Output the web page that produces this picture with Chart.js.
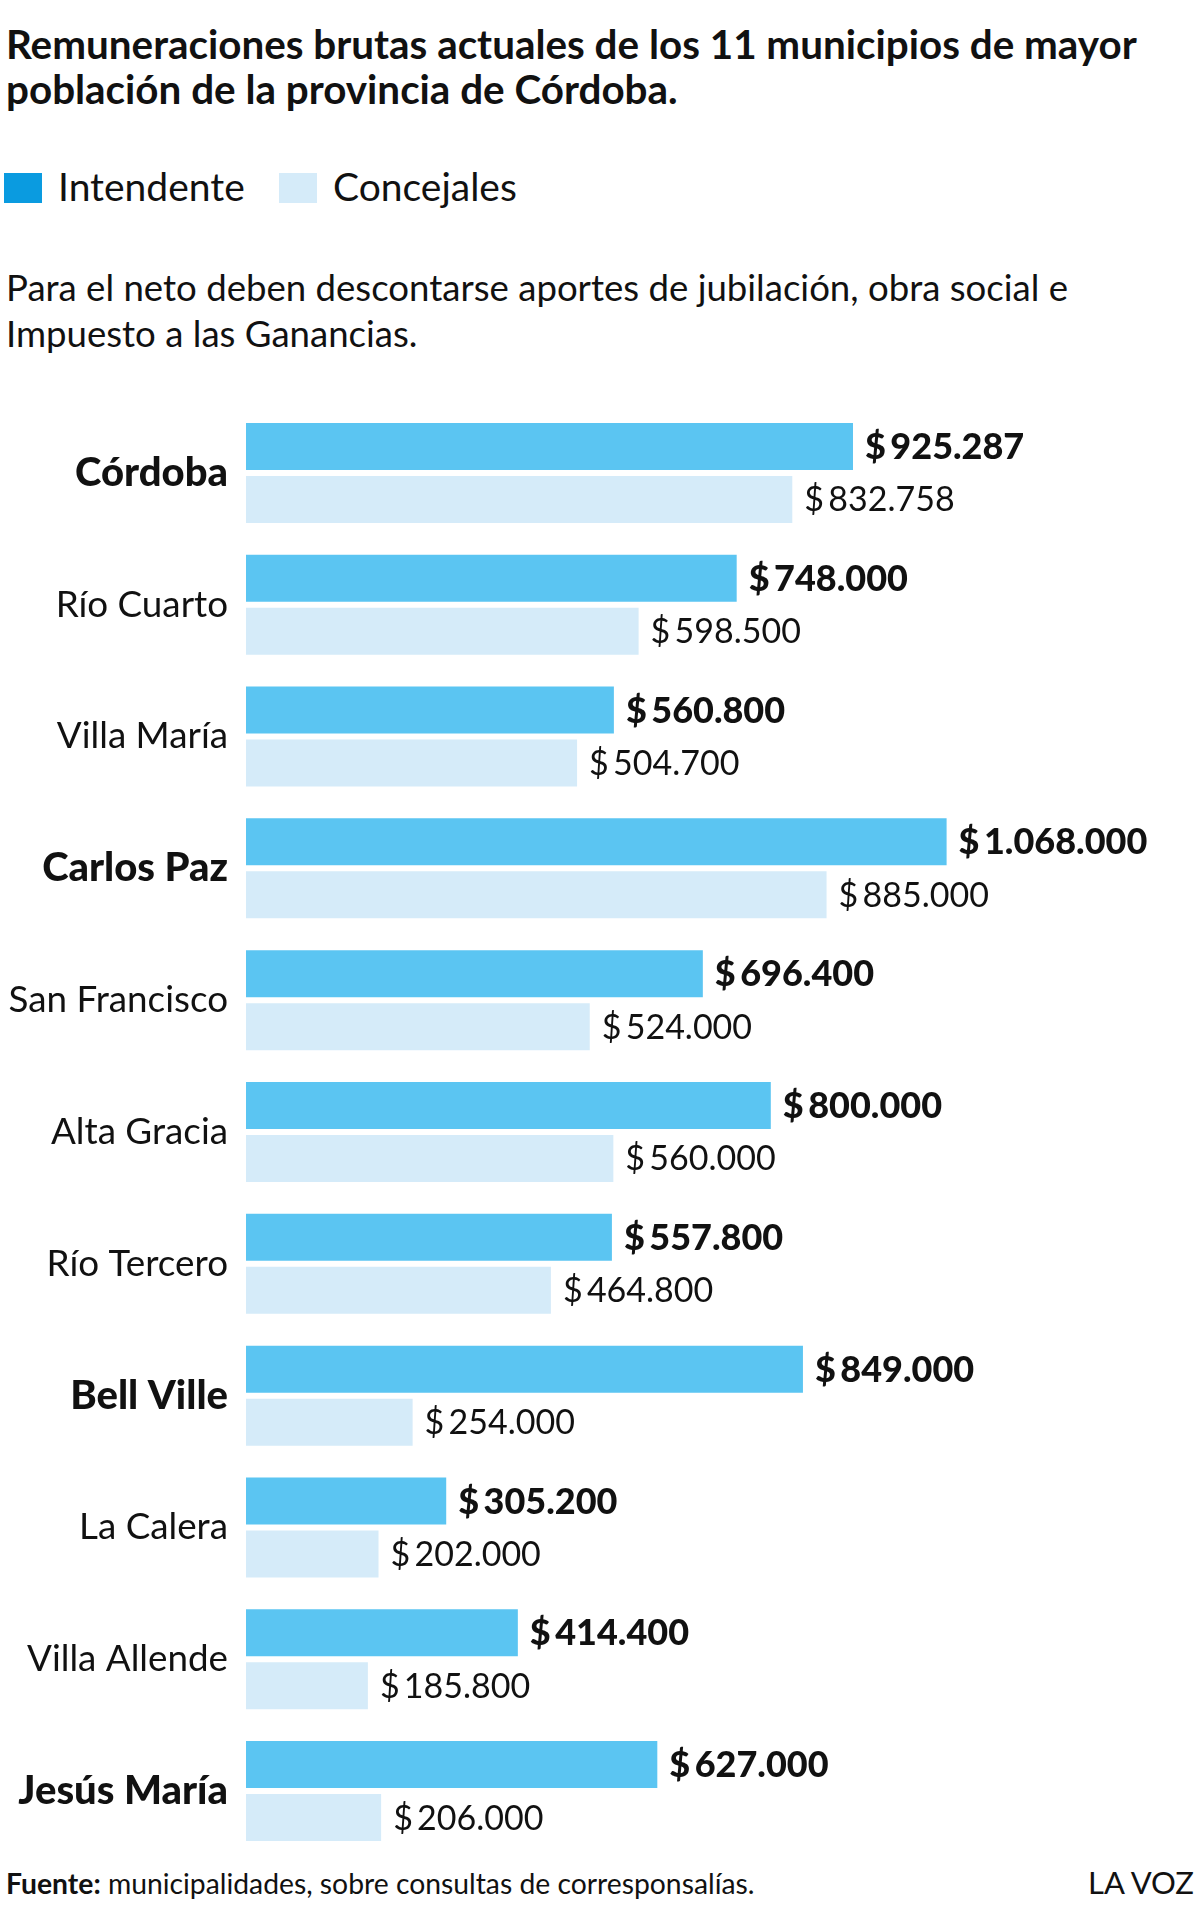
<!DOCTYPE html>
<html>
<head>
<meta charset="utf-8">
<script src="https://cdn.jsdelivr.net/npm/chart.js@4"></script>
<style>
  body { margin: 0; background: #fff; width: 1200px; height: 1910px; position: relative; overflow: hidden; font-family: Lato, sans-serif; color: #111; }
  .t { position: absolute; left: 6px; white-space: nowrap; }
  #title { top: 21px; font-size: 40.4px; line-height: 45px; font-weight: bold; }
  .leg { top: 163px; font-size: 39px; line-height: 46px; }
  .sq { position: absolute; top: 173px; width: 38px; height: 30px; }
  #sub { top: 264px; font-size: 36.6px; line-height: 46px; }
  #foot { top: 1866px; font-size: 28.3px; line-height: 35px; }
  #brand { position: absolute; top: 1865px; right: 6px; font-size: 31px; line-height: 35px; }
  #wrap { position: absolute; left: 0; top: 380px; width: 1200px; height: 1500px; }
</style>
</head>
<body>
<div class="t" id="title">Remuneraciones brutas actuales de los 11 municipios de mayor<br>población de la provincia de Córdoba.</div>
<div class="sq" style="left:4px;background:#0A9BE0"></div>
<div class="t leg" style="left:58px">Intendente</div>
<div class="sq" style="left:279px;background:#D5EBF9"></div>
<div class="t leg" style="left:333px">Concejales</div>
<div class="t" id="sub">Para el neto deben descontarse aportes de jubilación, obra social e<br>Impuesto a las Ganancias.</div>
<div class="t" id="foot"><b>Fuente:</b> municipalidades, sobre consultas de corresponsalías.</div>
<div id="brand">LA VOZ</div>
<div id="wrap"><canvas id="chart" width="1200" height="1500"></canvas></div>
<script>
// datos
var municipios = ["Córdoba", "Río Cuarto", "Villa María", "Carlos Paz", "San Francisco", "Alta Gracia", "Río Tercero", "Bell Ville", "La Calera", "Villa Allende", "Jesús María"];
var destacados = ["Córdoba", "Carlos Paz", "Bell Ville", "Jesús María"];
var intendente = [925287, 748000, 560800, 1068000, 696400, 800000, 557800, 849000, 305200, 414400, 627000];
var concejales = [832758, 598500, 504700, 885000, 524000, 560000, 464800, 254000, 202000, 185800, 206000];

function pesos(v) {
  return "$\u2009" + String(v).replace(/\B(?=(\d{3})+(?!\d))/g, ".");
}

var etiquetas = {
  id: 'etiquetas',
  afterDatasetsDraw: function(chart) {
    var ctx = chart.ctx;
    ctx.save();
    ctx.fillStyle = '#111';
    ctx.textAlign = 'left';
    ctx.textBaseline = 'middle';
    chart.data.datasets.forEach(function(ds, d) {
      ctx.font = d === 0 ? '900 36px Lato' : '34px Lato';
      chart.getDatasetMeta(d).data.forEach(function(bar, i) {
        ctx.fillText(pesos(ds.data[i]), bar.x + 12, bar.y + 1);
      });
    });
    ctx.restore();
  }
};

new Chart(document.getElementById('chart'), {
  type: 'bar',
  data: {
    labels: municipios,
    datasets: [
      { label: 'Intendente', data: intendente, backgroundColor: '#5BC5F2', categoryPercentage: 0.804, barPercentage: 0.887 },
      { label: 'Concejales', data: concejales, backgroundColor: '#D5EBF9', categoryPercentage: 0.804, barPercentage: 0.887 }
    ]
  },
  options: {
    indexAxis: 'y',
    responsive: false,
    animation: false,
    layout: { padding: { top: 27, bottom: 23, left: 0, right: 35.6 } },
    plugins: { legend: { display: false }, tooltip: { enabled: false } },
    scales: {
      x: { display: false, min: 0, max: 1400000 },
      y: {
        grid: { display: false, drawTicks: false },
        border: { display: false },
        afterFit: function(scale) {
          scale.width = 246;
          scale.paddingTop = 0;
          scale.paddingBottom = 0;
        },
        ticks: {
          padding: 18,
          color: '#111',
          font: function(c) {
            var b = destacados.indexOf(municipios[c.index]) >= 0;
            return { family: 'Lato', size: b ? 40 : 36.8, weight: b ? '900' : 'normal' };
          }
        }
      }
    }
  },
  plugins: [etiquetas]
});
</script>
</body>
</html>
